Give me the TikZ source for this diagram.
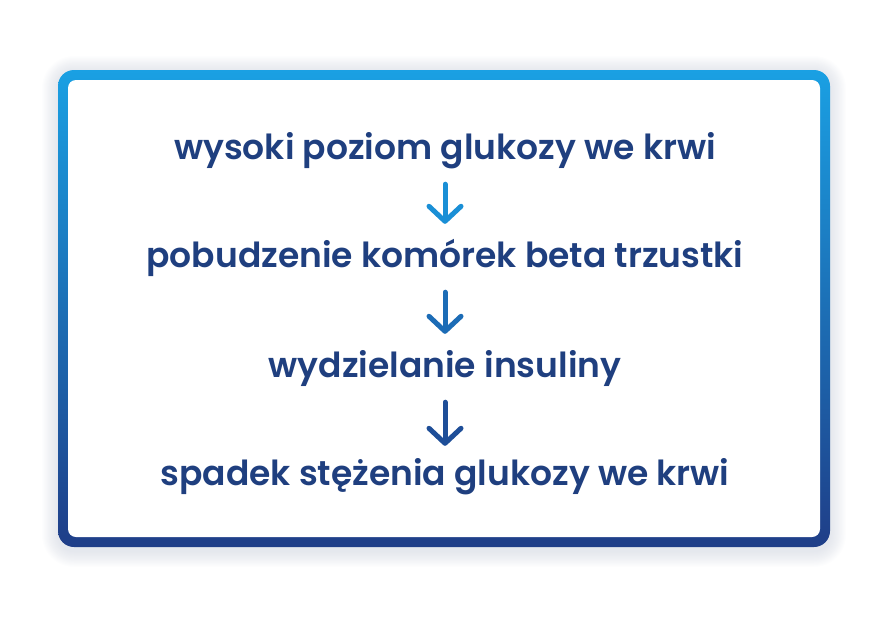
\documentclass[tikz,border=0pt]{standalone}
\usepackage{fontspec}
\setmainfont{Poppins}[BoldFont={Poppins SemiBold}]
\usetikzlibrary{arrows.meta}
\definecolor{boxtop}{HTML}{1AA0E3}
\definecolor{boxbot}{HTML}{1F3E88}
\definecolor{txtblue}{HTML}{1F3F7F}
\definecolor{arrA}{HTML}{1A8FD6}
\definecolor{arrB}{HTML}{1C6CB6}
\definecolor{arrC}{HTML}{1E4E98}
\definecolor{shadowgray}{HTML}{8A96B0}
\tikzset{
  steptext/.style={anchor=base,inner sep=0pt,text height=27pt,text depth=9pt,
    font=\fontsize{34.5}{41}\selectfont\bfseries,text=txtblue},
  flowarrow/.style={line width=5pt,line cap=round,
    -{Straight Barb[round,length=15pt,width=32pt,line width=0pt 1]}}
}
\begin{document}
\begin{tikzpicture}[x=1pt,y=1pt,yscale=-1,xscale=1]
\useasboundingbox (0,0) rectangle (890,618);

%Shadow
\foreach \s in {1,...,16}
  \fill[shadowgray,opacity=0.016,rounded corners=16+\s] (58-\s,72-\s) rectangle (830+\s,551+\s);

%Frame with gradient border
\shade[top color=boxtop,bottom color=boxbot,rounded corners=16] (58,70) rectangle (830,547);
\fill[white,rounded corners=8] (68,80) rectangle (820,537);

% Text Nodes
\node[steptext] (glucoseHigh) at (445,159) {wysoki poziom glukozy we krwi};
\node[steptext] (betaCells) at (445,267) {pobudzenie komórek beta trzustki};
\node[steptext] (insulin) at (445,377) {wydzielanie insuliny};
\node[steptext] (glucoseLow) at (445,485) {spadek stężenia glukozy we krwi};

% Arrows
\draw[flowarrow,arrA,shorten <=16pt,shorten >=16pt] (glucoseHigh.south) -- (betaCells.north);
\draw[flowarrow,arrB,shorten <=16pt,shorten >=16pt] (betaCells.south) -- (insulin.north);
\draw[flowarrow,arrC,shorten <=16pt,shorten >=12pt] (insulin.south) -- (glucoseLow.north);

\end{tikzpicture}
\end{document}
